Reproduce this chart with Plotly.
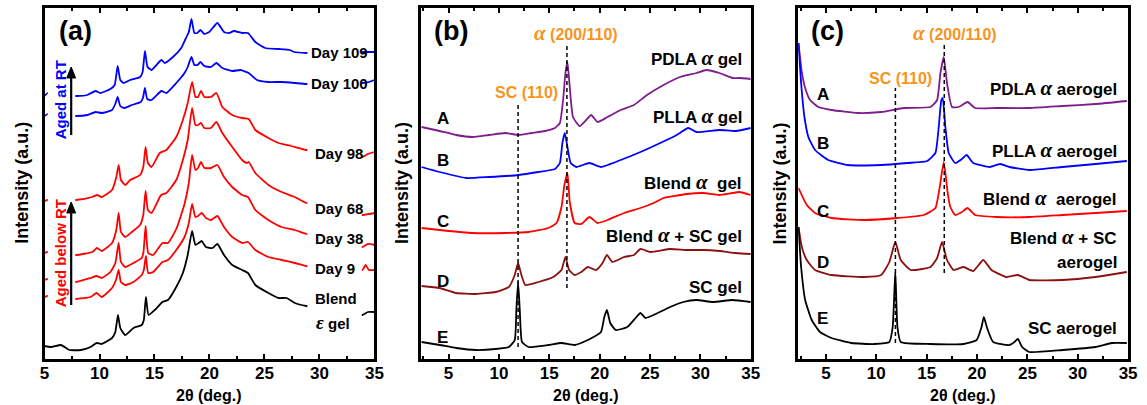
import plotly.graph_objects as go

# ---------------- (a) Blend epsilon gel aged over time ----------------
A_DAY109_T = [5.0, 5.3, 7.85, 8.89, 9.64, 10.09, 10.99, 11.38, 11.65, 11.89, 12.19, 12.79, 13.69, 13.92, 14.13, 14.37,
              14.73, 15.18, 15.63, 15.93, 16.68, 17.43, 17.82, 18.12, 18.36, 18.63, 18.9, 19.17, 19.53, 19.98, 20.72,
              21.32, 21.77, 22.22, 22.97, 23.5, 24.17, 25.06, 26.27, 27.31, 27.7, 28.81, 31.0, 34.05, 34.5, 35.0]
A_DAY109_I = [263, 266, 263, 264, 268, 266, 270, 274, 293, 279, 276, 279, 282, 287, 308, 292,
              289, 294, 299, 296, 302, 311, 320, 327, 340, 326, 326, 329, 325, 327, 336,
              327, 326, 328, 326, 326, 317, 311, 310, 309, 307, 306, 306, 307, 307, 307]

A_DAY100_T = [5.0, 5.3, 7.85, 8.9, 9.64, 10.2, 11.14, 11.47, 11.65, 11.89, 12.25, 12.94, 13.75, 13.95, 14.13, 14.34,
              14.73, 15.63, 16.08, 16.98, 17.73, 18.02, 18.36, 18.63, 18.93, 19.17, 19.53, 20.13, 20.63, 21.17,
              22.07, 22.82, 23.57, 24.32, 25.36, 26.56, 27.76, 28.81, 31.0, 33.9, 34.5, 35.0]
A_DAY100_I = [243, 245, 243, 244, 247, 246, 249, 256, 262, 253, 251, 254, 257, 261, 271, 260,
              259, 268, 266, 276, 286, 292, 302, 294, 294, 297, 293, 292, 296, 291,
              288, 289, 286, 279, 277, 277, 276, 275, 276, 276, 277, 279]

A_DAY98_T = [5.0, 5.3, 7.85, 9.34, 9.78, 10.2, 11.14, 11.53, 11.74, 11.95, 12.34, 12.79, 13.69, 13.98, 14.19, 14.4,
             14.73, 15.48, 16.08, 16.98, 17.58, 18.02, 18.42, 18.72, 18.96, 19.23, 19.53, 20.13, 20.63, 21.17,
             22.07, 22.97, 23.57, 24.17, 25.36, 26.27, 27.46, 28.81, 31.0, 33.9, 34.4, 35.0]
A_DAY98_I = [158, 159, 159, 162, 164, 162, 169, 182, 194, 179, 174, 179, 184, 192, 212, 196,
             192, 206, 209, 222, 239, 256, 277, 262, 262, 268, 262, 262, 266, 252,
             244, 241, 240, 229, 221, 216, 213, 209, 206, 202, 205, 207]

A_DAY68_T = [5.0, 5.3, 7.85, 9.34, 9.78, 10.2, 11.14, 11.53, 11.74, 11.95, 12.34, 12.94, 13.69, 13.98, 14.19, 14.4,
             14.73, 15.6, 16.08, 16.98, 17.58, 18.02, 18.42, 18.72, 18.96, 19.23, 19.53, 20.13, 20.63, 21.17,
             22.07, 22.97, 23.4, 23.57, 24.17, 25.36, 26.56, 27.76, 28.81, 31.0, 33.9, 34.5, 35.0]
A_DAY68_I = [106, 107, 104, 107, 111, 108, 116, 129, 146, 127, 122, 127, 134, 144, 168, 149,
             146, 164, 166, 179, 199, 219, 251, 234, 234, 236, 231, 231, 237, 226,
             212, 199, 196, 197, 186, 174, 167, 162, 156, 152, 144, 145, 146]

A_DAY38_T = [5.0, 5.3, 7.85, 9.19, 9.73, 10.2, 10.99, 11.44, 11.74, 11.95, 12.34, 13.09, 13.84, 14.0, 14.19, 14.43,
             14.88, 15.72, 16.23, 16.98, 17.73, 18.12, 18.42, 18.72, 18.96, 19.23, 19.53, 20.13, 20.72, 21.32,
             22.07, 22.97, 23.5, 24.17, 25.36, 26.56, 27.76, 28.81, 31.0, 33.9, 34.4, 35.0]
A_DAY38_I = [79, 80, 77, 81, 83, 81, 87, 96, 116, 97, 92, 96, 101, 107, 133, 106,
             104, 116, 116, 130, 155, 176, 204, 189, 191, 197, 191, 191, 194, 182,
             172, 164, 162, 149, 139, 132, 129, 125, 121, 112, 115, 114]

A_DAY9_T = [5.0, 5.3, 7.85, 9.19, 9.73, 10.2, 11.14, 11.5, 11.74, 11.95, 12.34, 13.09, 13.84, 14.03, 14.22, 14.43,
            14.88, 15.72, 16.23, 16.98, 17.73, 18.12, 18.42, 18.72, 18.96, 19.29, 19.68, 20.13, 20.72, 21.32,
            22.07, 22.97, 23.5, 24.17, 25.36, 26.56, 27.76, 28.81, 31.0, 33.9, 34.2, 34.5, 35.0]
A_DAY9_I = [62, 63, 60, 62, 66, 62, 71, 79, 89, 77, 74, 77, 84, 89, 103, 86,
            87, 97, 99, 109, 122, 136, 155, 142, 143, 146, 141, 139, 143, 132,
            122, 116, 117, 109, 102, 99, 96, 93, 91, 89, 94, 89, 89]

A_BLEND_T = [5.0, 5.6, 6.5, 7.25, 8.3, 9.19, 9.73, 10.2, 11.14, 11.44, 11.68, 11.89, 12.34, 13.09, 13.84, 14.03,
             14.22, 14.46, 15.03, 15.72, 16.23, 16.98, 17.58, 18.02, 18.42, 18.72, 19.02, 19.29, 19.68, 20.28,
             20.72, 21.32, 22.07, 22.97, 23.5, 24.17, 25.36, 26.27, 27.01, 27.76, 28.81, 31.0, 33.9, 34.4, 35.0]
A_BLEND_I = [13, 12, 14, 9, 9, 12, 16, 15, 21, 27, 44, 31, 24, 31, 34, 39,
             62, 44, 49, 57, 59, 72, 86, 104, 128, 114, 116, 118, 112, 111,
             115, 104, 94, 89, 86, 74, 66, 61, 61, 56, 53, 50, 44, 47, 47]

# ---------------- (b) gels ----------------
B_A_T = [2.32, 4.12, 5.75, 7.38, 9.02, 10.65, 11.96, 13.26, 14.58, 15.56, 16.05, 16.37, 16.6, 16.8, 17.03, 17.35,
         18.01, 18.66, 19.15, 19.8, 20.78, 22.09, 23.4, 24.7, 26.34, 27.97, 29.6, 30.59, 31.89, 33.2, 33.85, 35.0]
B_A_I = [232, 228, 224, 222, 224, 226, 224, 226, 228, 231, 236, 259, 286, 297, 272, 242,
         233, 239, 244, 237, 242, 249, 254, 264, 274, 282, 286, 289, 286, 281, 281, 280]

B_B_T = [2.32, 4.12, 6.73, 9.02, 11.96, 13.92, 15.56, 16.05, 16.3, 16.54, 16.8, 17.12, 17.67, 18.98, 20.13, 22.09,
         24.05, 26.01, 27.65, 28.79, 29.6, 31.89, 33.52, 35.0]
B_B_I = [192, 187, 181, 182, 184, 187, 190, 196, 216, 226, 212, 196, 192, 196, 192, 199,
         207, 216, 224, 231, 227, 229, 228, 231]

B_C_T = [2.32, 4.12, 7.38, 10.65, 12.94, 14.9, 15.72, 16.21, 16.5, 16.8, 17.03, 17.52, 18.17, 18.98, 19.8, 20.78,
         22.42, 24.05, 25.36, 26.34, 28.63, 30.26, 31.89, 33.85, 35.0]
B_C_I = [131, 129, 126, 126, 127, 131, 136, 152, 174, 186, 157, 136, 135, 142, 136, 139,
         146, 151, 156, 161, 165, 166, 164, 167, 164]

B_D_T = [2.32, 4.12, 5.75, 7.71, 9.67, 10.98, 11.57, 11.9, 12.23, 12.62, 13.92, 15.39, 16.21, 16.6, 16.96, 17.52,
         18.17, 18.82, 19.64, 20.29, 20.72, 21.27, 22.42, 23.4, 24.05, 25.03, 26.99, 28.63, 30.26, 31.89, 33.52, 35.0]
B_D_I = [73, 71, 66, 65, 67, 72, 84, 96, 84, 74, 77, 82, 89, 102, 89, 84,
         87, 92, 89, 96, 104, 97, 102, 104, 110, 107, 110, 109, 109, 108, 106, 105]

B_E_T = [2.32, 4.12, 5.75, 7.71, 9.67, 10.98, 11.57, 11.73, 11.9, 12.07, 12.29, 12.94, 14.9, 16.21, 17.52, 18.82,
         20.13, 20.46, 20.72, 21.05, 21.6, 22.75, 23.56, 24.05, 24.54, 25.36, 26.99, 28.3, 29.6, 31.24, 33.2, 35.0]
B_E_I = [17, 14, 11, 9, 10, 12, 19, 49, 77, 49, 17, 12, 14, 16, 14, 19,
         27, 42, 49, 36, 29, 32, 41, 46, 41, 44, 52, 57, 59, 57, 59, 57]

# ---------------- (c) aerogels ----------------
C_A_T = [2.28, 2.61, 2.94, 3.43, 4.25, 5.56, 8.18, 10.48, 12.76, 15.38, 16.04, 16.37, 16.7, 17.02, 17.52, 18.17,
         19.06, 19.81, 21.93, 25.2, 28.48, 31.76, 34.87]
C_A_I = [316, 287, 271, 259, 252, 249, 246, 247, 251, 252, 259, 286, 302, 276, 252, 252,
         257, 251, 251, 251, 253, 255, 258]

C_B_T = [2.28, 2.54, 2.87, 3.26, 3.92, 5.23, 7.19, 10.48, 13.08, 15.05, 15.87, 16.2, 16.46, 16.6, 16.86, 17.19,
         17.84, 18.5, 18.97, 19.63, 21.27, 22.31, 23.23, 25.2, 28.48, 31.76, 34.87]
C_B_I = [316, 276, 242, 222, 209, 199, 194, 194, 196, 198, 206, 232, 259, 261, 232, 206,
         196, 200, 204, 196, 192, 195, 192, 189, 192, 195, 198]

C_C_T = [2.28, 3.1, 3.92, 5.56, 8.83, 12.1, 14.72, 15.87, 16.3, 16.7, 17.09, 17.35, 17.84, 18.5, 19.06, 19.81,
         21.93, 25.2, 28.48, 31.76, 34.87]
C_C_I = [171, 154, 146, 141, 139, 141, 144, 151, 172, 197, 166, 152, 144, 147, 151, 144,
         142, 142, 144, 146, 148]

C_D_T = [2.28, 2.61, 3.1, 3.92, 5.56, 8.83, 10.48, 11.3, 11.89, 12.43, 13.41, 15.38, 16.04, 16.53, 17.02, 17.68,
         18.66, 19.63, 20.62, 21.44, 22.91, 24.06, 25.2, 28.48, 31.76, 34.87]
C_D_I = [132, 112, 99, 89, 84, 82, 84, 97, 117, 99, 89, 92, 101, 117, 99, 89,
         92, 88, 99, 89, 82, 84, 79, 79, 82, 87]

C_E_T = [2.28, 2.54, 2.94, 3.59, 4.41, 5.56, 7.52, 9.81, 11.3, 11.63, 11.89, 12.1, 12.43, 15.38, 18.66, 19.96,
         20.45, 20.68, 21.0, 21.6, 23.23, 23.72, 24.06, 24.48, 25.2, 28.48, 31.76, 33.4, 34.87]
C_E_I = [132, 92, 59, 39, 27, 21, 16, 15, 17, 32, 87, 32, 17, 15, 15, 19,
         32, 42, 31, 17, 14, 17, 20, 12, 7, 9, 12, 16, 16]

SC_110 = 11.9          # SC (110) reflection
ALPHA_200 = 16.75      # alpha (200/110) reflection

BLUE, RED, PURPLE, WINE, BLACK = "#0000ff", "#ff0000", "#7d1d8c", "#8b1010", "#000000"
ORANGE = "#f7941d"
FONT = "Liberation Sans, Arial, sans-serif"
W, H = 1147, 405
TOP, BOTTOM = 8, 359


def px(x):
    return x / W


def py(y):
    return 1 - y / H


fig = go.Figure()

panel_a = [(A_DAY109_T, A_DAY109_I, BLUE), (A_DAY100_T, A_DAY100_I, BLUE), (A_DAY98_T, A_DAY98_I, RED),
           (A_DAY68_T, A_DAY68_I, RED), (A_DAY38_T, A_DAY38_I, RED), (A_DAY9_T, A_DAY9_I, RED),
           (A_BLEND_T, A_BLEND_I, BLACK)]
panel_b = [(B_A_T, B_A_I, PURPLE), (B_B_T, B_B_I, BLUE), (B_C_T, B_C_I, RED), (B_D_T, B_D_I, WINE),
           (B_E_T, B_E_I, BLACK)]
panel_c = [(C_A_T, C_A_I, PURPLE), (C_B_T, C_B_I, BLUE), (C_C_T, C_C_I, RED), (C_D_T, C_D_I, WINE),
           (C_E_T, C_E_I, BLACK)]

for k, series in enumerate([panel_a, panel_b, panel_c]):
    suffix = "" if k == 0 else str(k + 1)
    for t, i, col in series:
        fig.add_trace(go.Scatter(x=t, y=i, mode="lines", xaxis="x" + suffix, yaxis="y" + suffix,
                                 line=dict(color=col, width=1.8, shape="spline", smoothing=0.45),
                                 showlegend=False, hoverinfo="skip"))

domains = [(40, 374), (421, 755), (803, 1137)]
ranges = [[5, 35], [2.25, 35], [2.25, 35]]
layout = dict(width=W, height=H, margin=dict(l=0, r=0, t=0, b=0), paper_bgcolor="white",
              plot_bgcolor="white", font=dict(family=FONT, color="black", weight="bold"))
for k, ((x0, x1), rng) in enumerate(zip(domains, ranges)):
    suffix = "" if k == 0 else str(k + 1)
    layout["xaxis" + suffix] = dict(
        domain=[px(x0), px(x1)], range=rng, anchor="y" + suffix, tick0=5, dtick=5,
        ticks="inside", ticklen=5, tickwidth=2, tickcolor="black", ticklabelstandoff=-3,
        minor=dict(ticks="inside", dtick=2.5, tick0=5, ticklen=3, tickwidth=1.5, tickcolor="black"),
        showline=True, linewidth=2.5, linecolor="black", mirror="allticks",
        showgrid=False, zeroline=False, tickfont=dict(size=17, family=FONT, weight="bold"))
    layout["yaxis" + suffix] = dict(
        domain=[py(BOTTOM), py(TOP)], range=[0, 351], anchor="x" + suffix,
        showline=True, linewidth=2.5, linecolor="black", mirror=True, ticks="",
        showticklabels=False, showgrid=False, zeroline=False)
fig.update_layout(**layout)

shapes = []
# label panels in (a) hide the traces behind them
shapes.append(dict(type="rect", xref="x", yref="y", x0=5.3, x1=7.8, y0=55, y1=304,
                   fillcolor="white", line=dict(width=0), layer="above"))
shapes.append(dict(type="rect", xref="x", yref="y", x0=28.9, x1=33.85, y0=29, y1=319,
                   fillcolor="white", line=dict(width=0), layer="above"))
# reference lines in (b) and (c)
for sfx, sc_top, sc_bot, al_top, al_bot in [("2", 257, 12, 316, 71), ("3", 271, 16, 316, 86)]:
    shapes.append(dict(type="line", xref="x" + sfx, yref="y" + sfx, x0=SC_110, x1=SC_110, y0=sc_bot, y1=sc_top,
                       line=dict(color="black", width=1.5, dash="4px,3px")))
    shapes.append(dict(type="line", xref="x" + sfx, yref="y" + sfx, x0=ALPHA_200, x1=ALPHA_200, y0=al_bot,
                       y1=al_top, line=dict(color="black", width=1.5, dash="4px,3px")))
# upward arrows next to the ageing labels in (a)
for head, tail in [(67, 135), (202, 305)]:
    shapes.append(dict(type="line", xref="paper", yref="paper", x0=px(67), x1=px(67), y0=py(tail),
                       y1=py(head + 8), line=dict(color="black", width=2.2)))
    shapes.append(dict(type="path", xref="paper", yref="paper",
                       path=f"M {px(62.5)} {py(head + 11)} L {px(67)} {py(head)} L {px(71.5)} {py(head + 11)} Z",
                       fillcolor="black", line=dict(color="black", width=1)))
fig.update_layout(shapes=shapes)

ALPHA = '<span style="font-family:Liberation Serif;font-style:italic;font-size:21px">α</span>'
ann = []


def text(x, y, s, size=16, color="black", xanchor="center", angle=0):
    ann.append(dict(xref="paper", yref="paper", x=px(x), y=py(y), text=s, showarrow=False,
                    xanchor=xanchor, yanchor="middle", textangle=angle,
                    font=dict(size=size, color=color, family=FONT, weight="bold")))


# panel tags
text(71, 31, "(a)", size=27)
text(452, 31, "(b)", size=27)
text(833, 31, "(c)", size=27)

# axis titles
for cx in (207, 588, 970):
    text(cx, 395, "2θ (deg.)", size=16)
for cx in (17, 402, 785):
    text(cx, 183, "Intensity (a.u.)", size=18, angle=-90)

# (a) curve labels
for y, s in [(52, "Day 109"), (83, "Day 100"), (153, "Day 98"), (208, "Day 68"), (238, "Day 38"),
             (268, "Day 9"), (298, "Blend")]:
    text(308 if s.startswith("Day 10") else 312, y, s, size=15, xanchor="left")
text(313, 322, '<span style="font-family:Liberation Serif;font-style:italic;font-size:19px">ε</span> gel',
     size=15, xanchor="left")
text(56, 100, "Aged at RT", size=15, color=BLUE, angle=-90)
text(56, 253, "Aged below RT", size=15, color=RED, angle=-90)

# (b) labels
text(578, 33, ALPHA + " (200/110)", size=16, color=ORANGE)
text(528, 92, "SC (110)", size=16, color=ORANGE)
for y, s in [(58, "PDLA " + ALPHA + " gel"), (116, "PLLA " + ALPHA + " gel"), (182, "Blend " + ALPHA + "  gel"),
             (235, "Blend " + ALPHA + " + SC gel"), (287, "SC gel")]:
    text(748, y, s, size=17, xanchor="right")
for y, s in [(118, "A"), (160, "B"), (221, "C"), (281, "D"), (337, "E")]:
    text(443, y, s, size=17)

# (c) labels
text(962, 33, ALPHA + " (200/110)", size=16, color=ORANGE)
text(907, 78, "SC (110)", size=16, color=ORANGE)
for y, s in [(88, "PDLA " + ALPHA + " aerogel"), (150, "PLLA " + ALPHA + " aerogel"),
             (198, "Blend " + ALPHA + "  aerogel"), (237, "Blend " + ALPHA + " + SC"), (262, "aerogel"),
             (328, "SC aerogel")]:
    text(1128, y, s, size=17, xanchor="right")
for y, s in [(95, "A"), (143, "B"), (211, "C"), (262, "D"), (318, "E")]:
    text(828, y, s, size=17)

fig.update_layout(annotations=ann)
fig.write_html("out.html")
